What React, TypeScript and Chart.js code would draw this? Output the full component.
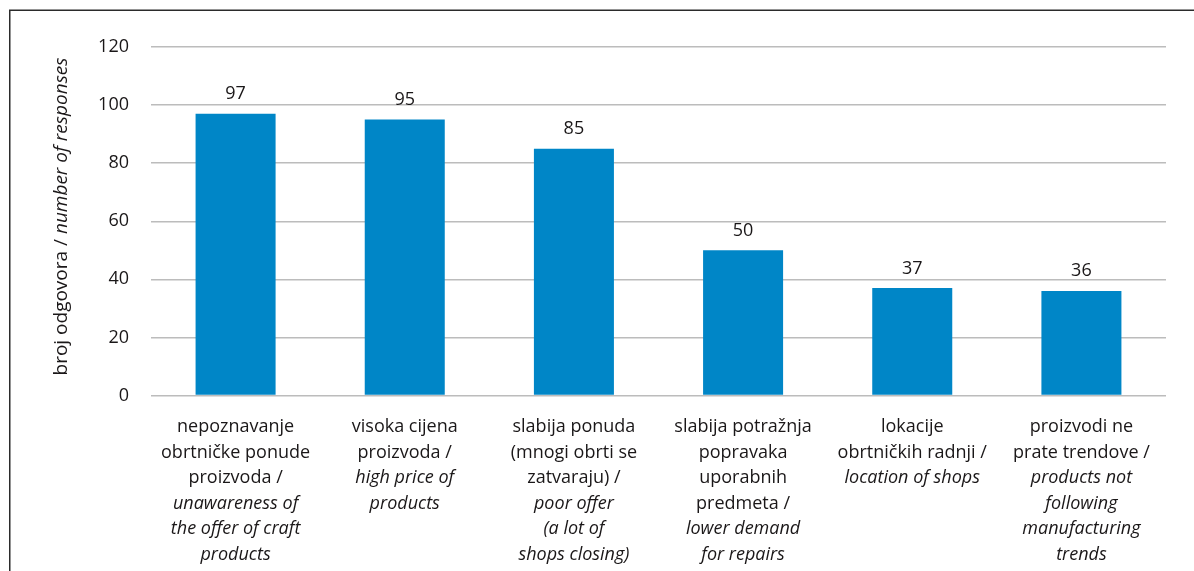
import React, { useEffect, useRef } from "react";
import { Chart, registerables } from "chart.js";

Chart.register(...registerables);

const values = [97, 95, 85, 50, 37, 36];
const labelsHr: string[][] = [
  ["nepoznavanje", "obrtničke ponude", "proizvoda /"],
  ["visoka cijena", "proizvoda /"],
  ["slabija ponuda", "(mnogi obrti se", "zatvaraju) /"],
  ["slabija potražnja", "popravaka", "uporabnih", "predmeta /"],
  ["lokacije", "obrtničkih radnji /"],
  ["proizvodi ne", "prate trendove /"],
];
const labelsEn: string[][] = [
  ["unawareness of", "the offer of craft", "products"],
  ["high price of", "products"],
  ["poor offer", "(a lot of", "shops closing)"],
  ["lower demand", "for repairs"],
  ["location of shops"],
  ["products not", "following", "manufacturing", "trends"],
];
const yTitleNormal = "broj odgovora / ";
const yTitleItalic = "number of responses";
const yTicks = [0, 20, 40, 60, 80, 100, 120];

const FONT = "'Open Sans', 'Noto Sans', sans-serif";
const TEXT = "#1a1718";
const BAR = "#0086c7";

const decorPlugin = {
  id: "decor",
  afterDraw(chart: any) {
    const ctx = chart.ctx;
    const xs = chart.scales.x;
    const area = chart.chartArea;
    ctx.save();
    // frame
    ctx.strokeStyle = "#2b2b2b";
    ctx.lineWidth = 1.5;
    ctx.beginPath();
    ctx.moveTo(9.75, 600);
    ctx.lineTo(9.75, 10.25);
    ctx.lineTo(1200, 10.25);
    ctx.stroke();

    // value labels
    ctx.fillStyle = TEXT;
    ctx.textAlign = "center";
    ctx.textBaseline = "alphabetic";
    ctx.font = `18px ${FONT}`;
    const meta = chart.getDatasetMeta(0);
    meta.data.forEach((bar: any, i: number) => {
      ctx.fillText(String(values[i]), bar.x, bar.y - 14.5);
    });

    // category labels
    const step = 25.5;
    for (let i = 0; i < values.length; i++) {
      const x = xs.getPixelForValue(i);
      let y = area.bottom + 36.5;
      for (const line of labelsHr[i]) {
        ctx.font = `18px ${FONT}`;
        ctx.fillText(line, x, y);
        y += step;
      }
      for (const line of labelsEn[i]) {
        ctx.font = `italic 18px ${FONT}`;
        ctx.fillText(line, x, y);
        y += step;
      }
    }

    // y title
    ctx.translate(66.5, 216.5);
    ctx.rotate(-Math.PI / 2);
    ctx.textAlign = "left";
    ctx.font = `19px ${FONT}`;
    const w1 = ctx.measureText(yTitleNormal).width;
    ctx.font = `italic 19px ${FONT}`;
    const w2 = ctx.measureText(yTitleItalic).width;
    const start = -(w1 + w2) / 2;
    ctx.font = `19px ${FONT}`;
    ctx.fillText(yTitleNormal, start, 0);
    ctx.font = `italic 19px ${FONT}`;
    ctx.fillText(yTitleItalic, start + w1, 0);
    ctx.restore();
  },
};

export default function App() {
  const ref = useRef<HTMLCanvasElement | null>(null);
  useEffect(() => {
    if (!ref.current) return;
    const chart = new Chart(ref.current, {
      type: "bar",
      data: {
        labels: labelsHr.map((l) => l.join(" ")),
        datasets: [
          {
            data: values,
            backgroundColor: BAR,
            borderWidth: 0,
            categoryPercentage: 1,
            barPercentage: 0.473,
          },
        ],
      },
      options: {
        animation: false,
        responsive: true,
        maintainAspectRatio: false,
        layout: { padding: { left: 0, top: 47, right: 28, bottom: 0 } },
        plugins: { legend: { display: false }, tooltip: { enabled: false } },
        scales: {
          x: {
            grid: { display: false },
            border: { display: false },
            ticks: { display: false },
            afterFit: (s: any) => {
              s.height = 175.5;
            },
          },
          y: {
            min: 0,
            max: 120,
            afterBuildTicks: (s: any) => {
              s.ticks = yTicks.map((v) => ({ value: v }));
            },
            grid: { color: "#bcbcbc", lineWidth: 1.5, drawTicks: false },
            border: { display: false },
            ticks: {
              padding: 22,
              color: TEXT,
              font: { family: FONT, size: 18 },
            },
            afterFit: (s: any) => {
              s.width = 151;
            },
          },
        },
      },
      plugins: [decorPlugin],
    });
    return () => chart.destroy();
  }, []);
  return (
    <div style={{ position: "absolute", left: 0, top: 0, width: 1194, height: 571, background: "#fff" }}>
      <canvas ref={ref} />
    </div>
  );
}
